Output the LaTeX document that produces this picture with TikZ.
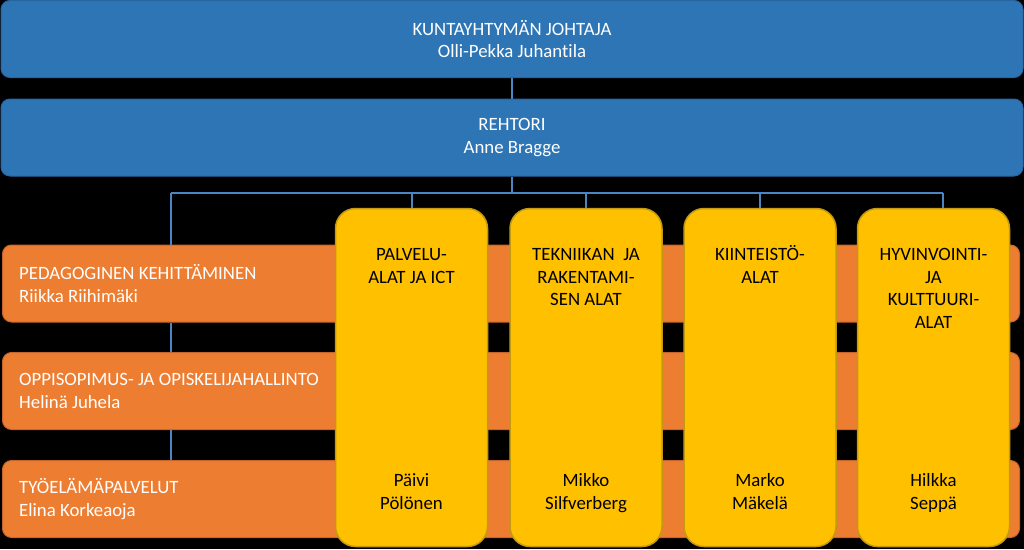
\documentclass[tikz,border=0pt]{standalone}
\usepackage{fontspec}
\setmainfont{Carlito}[Ligatures=NoCommon]

\definecolor{boxblue}{HTML}{2E75B6}
\definecolor{edgeblue}{HTML}{2865A0}
\definecolor{lineblue}{HTML}{4A86C4}
\definecolor{boxorange}{HTML}{ED7D31}
\definecolor{edgeorange}{HTML}{C8652A}
\definecolor{boxyellow}{HTML}{FFC000}
\definecolor{edgeyellow}{HTML}{C49A10}

\begin{document}
\begin{tikzpicture}[x=1pt,y=-1pt,
	link/.style={draw=lineblue,line width=2pt},
	txt/.style={inner sep=0pt,font=\fontsize{18.8}{22.5}\selectfont}]
	\fill[black] (0,0) rectangle (1024,549);
	\useasboundingbox (0,0) rectangle (1024,549);

	% blue boxes
	\begin{scope}[every node/.style={txt,draw=edgeblue,fill=boxblue,line width=1pt,rounded corners=9pt,
		minimum width=1022pt,minimum height=77pt,text=white,align=center}]
		\node (johtaja) at (512,39) {KUNTAYHTYMÄN JOHTAJA\\Olli-Pekka Juhantila};
		\node (rehtori) at (512,137.5) {REHTORI\\Anne Bragge};
	\end{scope}

	% connectors
	\coordinate (busL) at (171,193);
	\coordinate (busM) at (512,193);
	\coordinate (busR) at (943,193);
	\draw[link] (johtaja) -- (rehtori);
	\draw[link] (rehtori) -- (busM);
	\draw[link] (busL) -- (busR);

	% orange bars
	\begin{scope}[every node/.style={draw=edgeorange,fill=boxorange,line width=1pt,rounded corners=9pt,
		minimum width=1017pt,minimum height=77pt}]
		\node (ped) at (511,283.5) {};
		\node (opp) at (511,391) {};
		\node (tyo) at (511,499) {};
	\end{scope}
	\draw[link] (busL) -- (busL |- ped.north);
	\draw[link] (ped.south -| busL) -- (opp.north -| busL);
	\draw[link] (opp.south -| busL) -- (tyo.north -| busL);

	\begin{scope}[every node/.style={txt,text=white,align=left,anchor=west}]
		\node at (19,283.5) {PEDAGOGINEN KEHITTÄMINEN\\Riikka Riihimäki};
		\node at (19,391) {OPPISOPIMUS- JA OPISKELIJAHALLINTO\\Helinä Juhela};
		\node at (19,499) {TYÖELÄMÄPALVELUT\\Elina Korkeaoja};
	\end{scope}

	% yellow columns
	\begin{scope}[every node/.style={draw=edgeyellow,fill=boxyellow,line width=1.5pt,rounded corners=20pt,
		minimum width=152pt,minimum height=338pt}]
		\node (palv) at (411.5,377.5) {};
		\node (tekn) at (586,377.5) {};
		\node (kiint) at (760,377.5) {};
		\node (hyv) at (933.5,377.5) {};
	\end{scope}
	\foreach \n in {palv,tekn,kiint}
		\draw[link] (\n.north |- busL) -- (\n.north);
	\draw[link] (busR) -- (busR |- hyv.north);

	\begin{scope}[every node/.style={txt,align=center,anchor=north}]
		\node at ([yshift=-37pt]palv.north) {\strut PALVELU-\\ALAT JA ICT};
		\node at ([yshift=-37pt]tekn.north) {\strut TEKNIIKAN~ JA\\RAKENTAMI-\\SEN ALAT};
		\node at ([yshift=-37pt]kiint.north) {\strut KIINTEISTÖ-\\ALAT};
		\node at ([yshift=-37pt]hyv.north) {\strut HYVINVOINTI-\\JA\\KULTTUURI-\\ALAT};
		\node at ([yshift=-263pt]palv.north) {\strut Päivi\\Pölönen};
		\node at ([yshift=-263pt]tekn.north) {\strut Mikko\\Silfverberg};
		\node at ([yshift=-263pt]kiint.north) {\strut Marko\\Mäkelä};
		\node at ([yshift=-263pt]hyv.north) {\strut Hilkka\\Seppä};
	\end{scope}
\end{tikzpicture}
\end{document}
